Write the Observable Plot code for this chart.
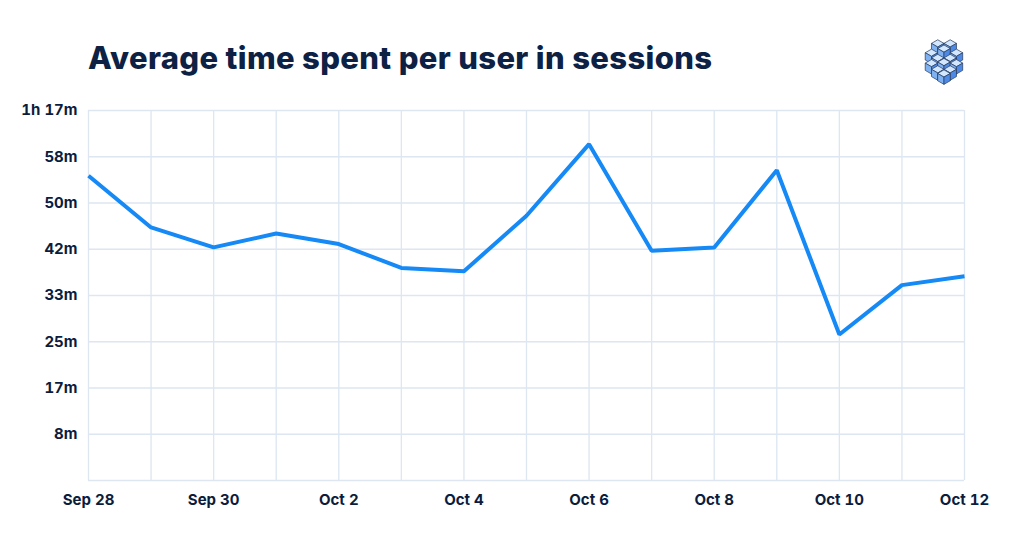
<!DOCTYPE html>
<html>
<head>
<meta charset="utf-8">
<script src="https://cdn.jsdelivr.net/npm/d3@7"></script>
<script src="https://cdn.jsdelivr.net/npm/@observablehq/plot@0.6"></script>
<style>
  html, body { margin: 0; padding: 0; background: #fff; }
  #wrap { position: relative; width: 1024px; height: 553px; overflow: hidden; font-family: Inter, "Open Sans", sans-serif; }
  #title { position: absolute; left: 88px; top: 39px; margin: 0; font-size: 31px; line-height: 38px; font-weight: 800; color: #0c2144; letter-spacing: 0.35px; white-space: nowrap; }
  #logo { position: absolute; left: 917px; top: 34px; }
  #chart { position: absolute; left: 0; top: 90px; }
</style>
</head>
<body>
<div id="wrap">
  <h1 id="title">Average time spent per user in sessions</h1>
  <svg id="logo" width="56" height="52" viewBox="0 0 54 50"></svg>
  <div id="chart"></div>
</div>
<script>
// ---- data ----
const days = ["2023-09-28","2023-09-29","2023-09-30","2023-10-01","2023-10-02","2023-10-03","2023-10-04",
              "2023-10-05","2023-10-06","2023-10-07","2023-10-08","2023-10-09","2023-10-10","2023-10-11","2023-10-12"];
const minutes = [54.9, 45.6, 42.0, 44.5, 42.6, 38.3, 37.7, 47.7, 60.6, 41.4, 42.0, 55.9, 26.3, 35.2, 36.8];
const yTickSeconds = [0, 500, 1000, 1500, 2000, 2500, 3000, 3500, 4000];
const yTickLabels = ["", "8m", "17m", "25m", "33m", "42m", "50m", "58m", "1h 17m"];
const xLabelDays = ["2023-09-28","2023-09-30","2023-10-02","2023-10-04","2023-10-06","2023-10-08","2023-10-10","2023-10-12"];

// ---- build ----
const parse = d3.utcParse("%Y-%m-%d");
const data = days.map((d, i) => ({date: parse(d), value: minutes[i]}));
const dayDates = days.map(parse);
const labelDates = xLabelDays.map(parse);
const yTicks = yTickSeconds.map(s => s / 60);
const yLabelMap = new Map(yTicks.map((t, i) => [t, yTickLabels[i]]));
const fmt = d3.utcFormat("%b %-d");

const grid = "#dde6f1";
const ink = "#0c1c3d";

const chart = Plot.plot({
  width: 1024,
  height: 463,
  marginLeft: 88,
  marginRight: 60,
  marginTop: 20,
  marginBottom: 73,
  x: {type: "utc", domain: [dayDates[0], dayDates[dayDates.length - 1]]},
  y: {domain: [0, yTicks[yTicks.length - 1]]},
  style: {fontFamily: "Inter, 'Open Sans', sans-serif", fontSize: "15px", fontWeight: 700, color: ink, background: "#fff"},
  marks: [
    Plot.gridX(dayDates, {stroke: grid, strokeOpacity: 1, strokeWidth: 1.3}),
    Plot.gridY(yTicks, {stroke: grid, strokeOpacity: 1, strokeWidth: 1.3}),
    Plot.axisX(labelDates, {tickSize: 0, tickPadding: 14, tickFormat: fmt, label: null, fill: ink}),
    Plot.axisY(yTicks.slice(1), {tickSize: 0, tickPadding: 11, tickFormat: d => yLabelMap.get(d), label: null, fill: ink}),
    Plot.line(data, {x: "date", y: "value", stroke: "#1589f6", strokeWidth: 4, strokeLinejoin: "miter", strokeLinecap: "butt"})
  ]
});
document.getElementById("chart").appendChild(chart);

// ---- decorative logo (isometric cubes) ----
(function () {
  const svg = d3.select("#logo");
  const s = 7;
  const w = s * 0.866;
  function cube(cx, cy) {
    const g = svg.append("g").attr("stroke", "#2a3b5c").attr("stroke-width", 0.7).attr("stroke-linejoin", "round");
    g.append("polygon").attr("points", [[cx, cy - s / 2], [cx + w, cy], [cx, cy + s / 2], [cx - w, cy]].join(" ")).attr("fill", "#d3e8ff");
    g.append("polygon").attr("points", [[cx - w, cy], [cx, cy + s / 2], [cx, cy + 1.5 * s], [cx - w, cy + s]].join(" ")).attr("fill", "#7fb2f3");
    g.append("polygon").attr("points", [[cx + w, cy], [cx, cy + s / 2], [cx, cy + 1.5 * s], [cx + w, cy + s]].join(" ")).attr("fill", "#4d8ae6");
  }
  const cells = [
    [20, 9], [32, 9],
    [14, 18], [26, 14], [38, 18],
    [20, 23], [32, 23],
    [14, 28], [26, 27], [38, 28],
    [20, 34], [32, 34],
    [26, 38]
  ];
  cells.forEach(([x, y]) => cube(x, y));
})();
</script>
</body>
</html>
